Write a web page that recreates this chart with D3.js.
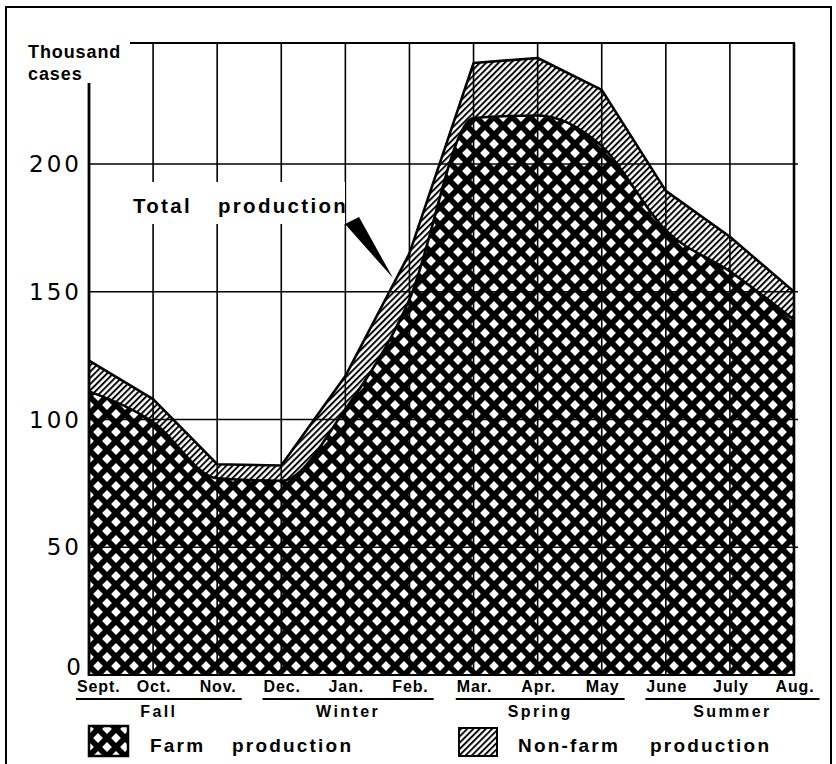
<!DOCTYPE html>
<html><head><meta charset="utf-8">
<script src="https://cdn.jsdelivr.net/npm/d3@7"></script>
<style>
html,body{margin:0;padding:0;background:#fff;}
svg{display:block;}
</style></head>
<body>
<script>
// ---- data ----
const months = ["Sept.","Oct.","Nov.","Dec.","Jan.","Feb.","Mar.","Apr.","May","June","July","Aug."];
const totalProduction = [123, 108, 82.5, 82, 117, 165, 239.5, 241.5, 229, 189.5, 171.5, 150];
const farmProduction  = [111, 99, 77, 76, 104, 147, 218, 219, 207, 174, 158, 139];
const seasons = ["Fall","Winter","Spring","Summer"];
const seasonMonths = [[0,2],[3,5],[6,8],[9,11]];
const yTicks = [0, 50, 100, 150, 200];
const yTitle = ["Thousand","cases"];
const annotation = ["Total","production"];
const legendLabels = [["Farm","production"],["Non-farm","production"]];

const W = 836, H = 764;
const svg = d3.select("body").append("svg").attr("width", W).attr("height", H);
const defs = svg.append("defs");

// cross-hatch (farm)
const p = 18, r = 4.9;
const cross = defs.append("pattern").attr("id","cross").attr("patternUnits","userSpaceOnUse")
  .attr("width",p).attr("height",p).attr("x",89).attr("y",675);
cross.append("rect").attr("width",p).attr("height",p).attr("fill","#000");
[[0,0],[p,0],[0,p],[p,p],[p/2,p/2]].forEach(([cx,cy])=>{
  cross.append("path").attr("d",`M${cx},${cy-r}L${cx+r},${cy}L${cx},${cy+r}L${cx-r},${cy}Z`).attr("fill","#fff");
});
// diagonal hatch (non-farm)
const hatch = defs.append("pattern").attr("id","hatch").attr("patternUnits","userSpaceOnUse")
  .attr("width",4.4).attr("height",10).attr("patternTransform","rotate(45)");
hatch.append("rect").attr("width",4.4).attr("height",10).attr("fill","#fff");
hatch.append("line").attr("x1",1).attr("x2",1).attr("y1",0).attr("y2",10).attr("stroke","#000").attr("stroke-width",1.9);

// outer frame
svg.append("rect").attr("x",6).attr("y",7).attr("width",825).attr("height",780)
  .attr("fill","none").attr("stroke","#000").attr("stroke-width",2);

const x = d3.scalePoint().domain(months).range([89, 794]);
const y = d3.scaleLinear().domain([0, 200]).range([675, 164]);
const plotTop = 43;

const data = months.map((m,i)=>({m, t: totalProduction[i], f: farmProduction[i]}));

const farmLine = d3.line().x(d=>x(d.m)).y(d=>y(d.f)).curve(d3.curveMonotoneX);
const totalLine = d3.line().x(d=>x(d.m)).y(d=>y(d.t)).curve(d3.curveLinear);
const farmArea = d3.area().x(d=>x(d.m)).y0(y(0)).y1(d=>y(d.f)).curve(d3.curveMonotoneX);
const totalArea = d3.area().x(d=>x(d.m)).y0(y(0)).y1(d=>y(d.t)).curve(d3.curveLinear);

svg.append("path").attr("d", totalArea(data)).attr("fill","url(#hatch)");
svg.append("path").attr("d", farmArea(data)).attr("fill","url(#cross)");

// grid
const grid = svg.append("g").attr("stroke","#000");
months.forEach((m,i)=>{
  if(i===0) return;
  grid.append("line").attr("x1",x(m)).attr("x2",x(m)).attr("y1",plotTop).attr("y2",y(0))
    .attr("stroke-width", i===months.length-1 ? 2.6 : 1.6);
});
yTicks.filter(v=>v>0).forEach(v=>{
  grid.append("line").attr("x1",89).attr("x2",798).attr("y1",y(v)).attr("y2",y(v)).attr("stroke-width",1.6);
});
grid.append("line").attr("x1",130).attr("x2",795).attr("y1",plotTop).attr("y2",plotTop).attr("stroke-width",2.2);
grid.append("line").attr("x1",89).attr("x2",795).attr("y1",y(0)).attr("y2",y(0)).attr("stroke-width",2);
grid.append("line").attr("x1",89).attr("x2",89).attr("y1",83).attr("y2",y(0)+1).attr("stroke-width",2.8);

// lines
svg.append("path").attr("d", farmLine(data)).attr("fill","none").attr("stroke","#000").attr("stroke-width",2.6);
svg.append("path").attr("d", totalLine(data)).attr("fill","none").attr("stroke","#000").attr("stroke-width",2.6).attr("stroke-linejoin","round");

const font = "'Liberation Sans', Arial, sans-serif";

// annotation
svg.append("rect").attr("x",120).attr("y",182).attr("width",225).attr("height",42).attr("fill","#fff");
const ann = svg.append("g").attr("font-family",font).attr("font-weight","bold").attr("font-size",20.5).attr("letter-spacing",2.3);
ann.append("text").attr("x",133).attr("y",213).text(annotation[0]);
ann.append("text").attr("x",218).attr("y",213).text(annotation[1]);
svg.append("path").attr("d","M345,224L359,217L393,278Z").attr("fill","#000");

// y tick labels
const yl = svg.append("g").attr("font-family","'DejaVu Sans', sans-serif").attr("font-size",23)
  .attr("text-anchor","end").attr("letter-spacing",3);
yTicks.forEach(v=>{
  yl.append("text").attr("x",v===0?84:82).attr("y",y(v) + (v===0 ? 0 : 8)).text(v);
});

// y title
const yt = svg.append("g").attr("font-family",font).attr("font-weight","bold").attr("font-size",18).attr("letter-spacing",0.9);
yt.append("text").attr("x",28).attr("y",58).text(yTitle[0]);
yt.append("text").attr("x",28).attr("y",80).text(yTitle[1]);

// month labels
const ml = svg.append("g").attr("font-family",font).attr("font-weight","bold").attr("font-size",16).attr("letter-spacing",0.9);
const monthNodes = months.map((m,i)=>{
  const t = ml.append("text").attr("y",692).text(m);
  if(i===0) t.attr("x",77).attr("text-anchor","start");
  else t.attr("x",x(m)+1).attr("text-anchor","middle");
  return t.node();
});
const sl = svg.append("g").attr("font-family",font).attr("font-weight","bold").attr("font-size",16).attr("letter-spacing",2.4).attr("text-anchor","middle");
seasons.forEach((s,k)=>{
  const [a,b] = seasonMonths[k];
  const ba = monthNodes[a].getBBox(), bb = monthNodes[b].getBBox();
  const x1 = ba.x - 1, x2 = bb.x + bb.width + 5;
  svg.append("line").attr("x1",x1).attr("x2",x2).attr("y1",699).attr("y2",699).attr("stroke","#000").attr("stroke-width",2);
  sl.append("text").attr("x",(x1+x2)/2).attr("y",717).text(s);
});

// legend
svg.append("rect").attr("x",89).attr("y",726).attr("width",39).attr("height",30).attr("fill","url(#cross)").attr("stroke","#000").attr("stroke-width",2.5);
svg.append("rect").attr("x",459).attr("y",728).attr("width",38).attr("height",28).attr("fill","url(#hatch)").attr("stroke","#000").attr("stroke-width",2);
const lg = svg.append("g").attr("font-family",font).attr("font-weight","bold").attr("font-size",19).attr("letter-spacing",2.2);
lg.append("text").attr("x",150).attr("y",752).text(legendLabels[0][0]);
lg.append("text").attr("x",232).attr("y",752).text(legendLabels[0][1]);
lg.append("text").attr("x",518).attr("y",752).text(legendLabels[1][0]);
lg.append("text").attr("x",650).attr("y",752).text(legendLabels[1][1]);
</script>
</body></html>
